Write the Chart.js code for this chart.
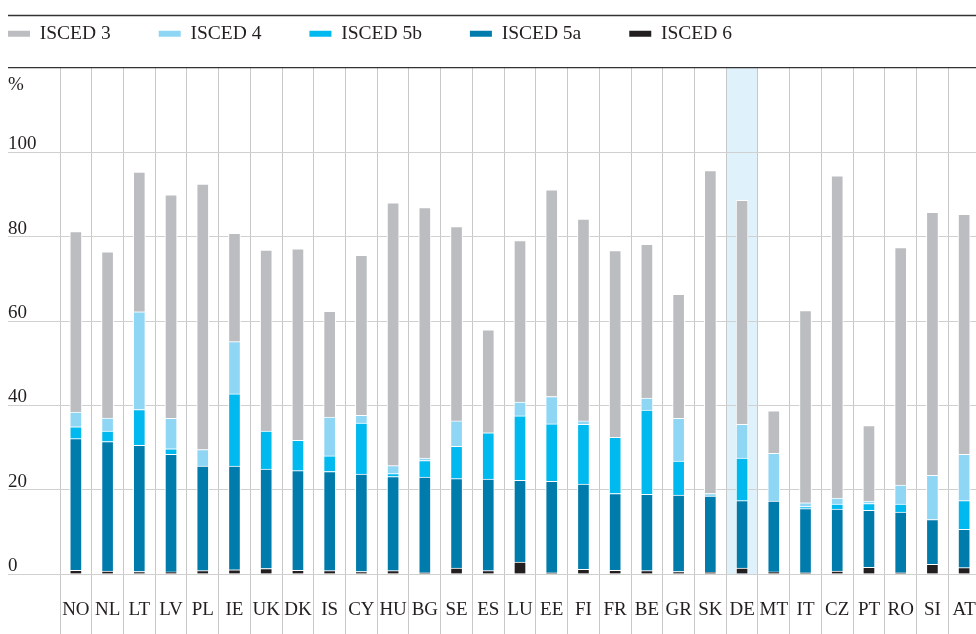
<!DOCTYPE html>
<html>
<head>
<meta charset="utf-8">
<script src="https://cdn.jsdelivr.net/npm/chart.js@4/dist/chart.umd.min.js"></script>
<style>
  html, body { margin: 0; padding: 0; background: #fff; overflow: hidden; }
  #wrap { width: 976px; height: 634px; overflow: hidden; }
</style>
</head>
<body>
<div id="wrap"><canvas id="grafik" width="980" height="634"></canvas></div>
<script>
const countries = ["NO","NL","LT","LV","PL","IE","UK","DK","IS","CY","HU","BG","SE","ES","LU","EE","FI","FR","BE","GR","SK","DE","MT","IT","CZ","PT","RO","SI","AT"];

const isced6  = [0.9,0.7,0.6,0.5,0.8,1.0,1.3,0.9,0.8,0.6,0.8,0.3,1.4,0.8,2.8,0.3,1.1,0.9,0.8,0.6,0.4,1.4,0.5,0.3,0.7,1.6,0.3,2.3,1.5];
const isced5a = [31.2,30.7,29.9,27.9,24.8,24.6,23.6,23.6,23.5,23.1,22.3,22.7,21.2,21.7,19.4,21.7,20.2,18.2,18.1,18.1,18.1,16.0,16.8,15.2,14.7,13.5,14.4,10.6,9.1];
const isced5b = [2.8,2.5,8.5,1.3,0,17.1,9.0,7.2,3.7,12.1,0.7,3.9,7.7,11.0,15.3,13.6,14.2,13.3,20.0,8.1,0,10.1,0,0.5,1.2,1.6,1.9,0,6.8];
const isced4  = [3.5,3.1,23.2,7.2,3.9,12.4,0,0,9.2,1.8,1.9,0.6,6.0,0,3.3,6.5,0.8,0,2.8,10.1,0.6,8.0,11.3,0.9,1.4,0.6,4.5,10.5,11.0];
const isced3  = [42.8,39.4,33.1,53.0,63.0,25.7,42.9,45.4,25.1,38.0,62.3,59.4,46.1,24.4,38.3,49.0,47.9,44.3,36.5,29.4,76.6,53.1,10.1,45.6,76.4,17.9,56.3,62.4,56.9];

const yTicks = [0, 20, 40, 60, 80, 100];
const yTop = 120;
const vurgu = "DE";

Chart.defaults.font.family = "'Liberation Serif', 'DejaVu Serif', serif";
Chart.defaults.font.size = 19;
Chart.defaults.color = "#231f20";

// arka plan: DE bandi, ust cizgi, % etiketi
const susle = {
    id: "susle",
    afterLayout(chart) {
        const lg = chart.legend;
        const p = lg.options.labels.padding;
        lg.left = 8 - p;
        lg.top = 24 - p;
    },
    beforeDraw(chart) {
        const { ctx, scales } = chart;
        const x = scales.x, y = scales.y;
        const i = countries.indexOf(vurgu);
        const half = (x.getPixelForValue(1) - x.getPixelForValue(0)) / 2;
        const cx = x.getPixelForValue(i);
        ctx.save();
        ctx.fillStyle = "#dff1fa";
        ctx.fillRect(cx - half, y.getPixelForValue(yTop), half * 2, y.getPixelForValue(0) - y.getPixelForValue(yTop));
        ctx.strokeStyle = "#333";
        ctx.lineWidth = 1.3;
        ctx.beginPath();
        ctx.moveTo(8, 15.5);
        ctx.lineTo(chart.width, 15.5);
        ctx.stroke();
        ctx.restore();
    },
    afterDraw(chart) {
        const { ctx, scales } = chart;
        ctx.save();
        ctx.font = "19px 'Liberation Serif'";
        ctx.fillStyle = "#231f20";
        ctx.textBaseline = "middle";
        ctx.textAlign = "left";
        ctx.fillText("%", 8, scales.y.getPixelForValue(yTop) + 17);
        ctx.restore();
    }
};

function dataset(label, data, renk) {
    return {
        label: label,
        data: data,
        backgroundColor: renk,
        borderColor: "#ffffff",
        borderWidth: { top: 1, left: 1, right: 1, bottom: 0 },
        borderSkipped: false,
        barThickness: 12
    };
}

new Chart(document.getElementById("grafik"), {
    type: "bar",
    data: {
        labels: countries,
        datasets: [
            dataset("ISCED 6", isced6, "#231f20"),
            dataset("ISCED 5a", isced5a, "#007cac"),
            dataset("ISCED 5b", isced5b, "#00b9ef"),
            dataset("ISCED 4", isced4, "#8fd6f5"),
            dataset("ISCED 3", isced3, "#bcbdc0")
        ]
    },
    options: {
        responsive: false,
        animation: false,
        layout: { padding: { left: 8, top: 8, right: 0, bottom: 0 } },
        plugins: {
            tooltip: { enabled: false },
            legend: {
                position: "top",
                align: "start",
                reverse: true,
                maxHeight: 60,
                labels: {
                    boxWidth: 22,
                    boxHeight: 6,
                    padding: 48,
                    font: { size: 19.5 },
                    color: "#231f20",
                    generateLabels(chart) {
                        const items = Chart.defaults.plugins.legend.labels.generateLabels(chart);
                        items.forEach(it => { it.lineWidth = 0; it.strokeStyle = it.fillStyle; });
                        return items;
                    }
                }
            }
        },
        scales: {
            x: {
                stacked: true,
                offset: true,
                border: { display: false },
                grid: {
                    offset: true,
                    color: "#c8c8c8",
                    lineWidth: 1,
                    drawTicks: true,
                    tickLength: 60
                },
                ticks: { padding: -35, maxRotation: 0, autoSkip: false },
                afterFit(scale) {
                    scale.height = 60;
                    scale.paddingLeft = 0;
                    scale.paddingRight = 0;
                }
            },
            y: {
                stacked: true,
                min: 0,
                max: yTop,
                border: { display: false },
                afterBuildTicks(scale) {
                    scale.ticks = yTicks.concat([yTop]).map(v => ({ value: v }));
                },
                grid: {
                    color: ctx => (ctx.tick && ctx.tick.value === yTop) ? "#333333" : "#d0d0d0",
                    lineWidth: ctx => (ctx.tick && ctx.tick.value === yTop) ? 1.3 : 1,
                    tickLength: 52
                },
                ticks: {
                    crossAlign: "far",
                    labelOffset: -8,
                    callback: v => v === yTop ? "" : String(v)
                },
                afterFit(scale) {
                    scale.width = 52;
                    scale.paddingTop = 0;
                    scale.paddingBottom = 0;
                }
            }
        }
    },
    plugins: [susle]
});
</script>
</body>
</html>
